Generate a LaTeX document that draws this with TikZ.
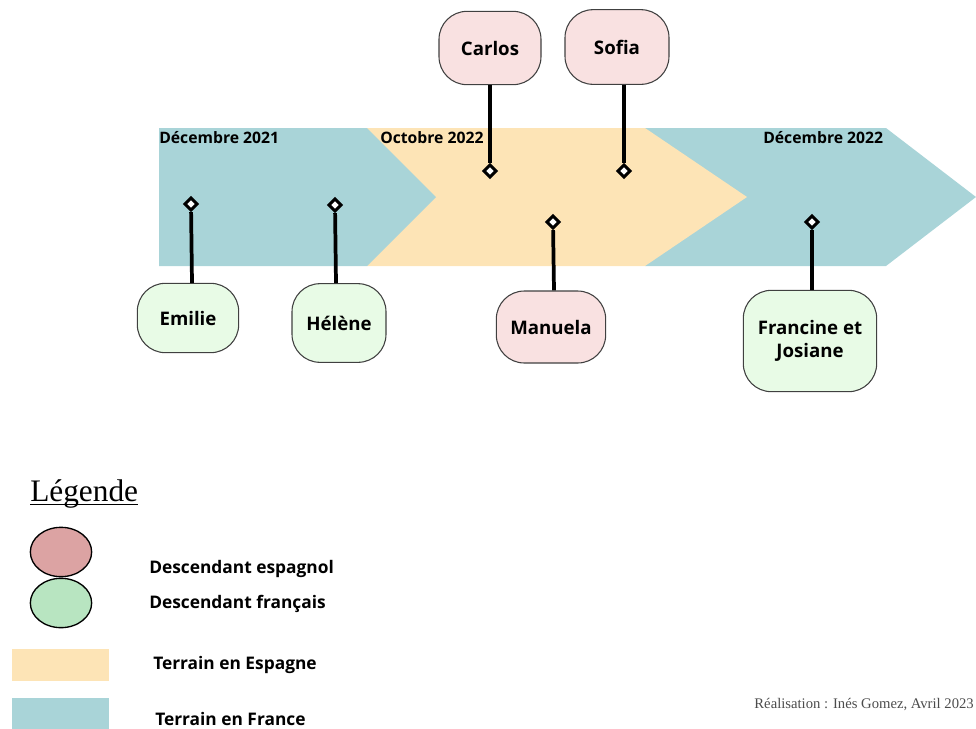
\documentclass[tikz,border=0pt]{standalone}
\usepackage{fontspec}
\setmainfont{Open Sans}
\newfontfamily\creditfont{Liberation Serif}
\usetikzlibrary{shapes.geometric}

\definecolor{franceblue}{HTML}{A9D4D8}
\definecolor{spainsand}{HTML}{FDE4B6}
\definecolor{pinkbox}{HTML}{F9E1E1}
\definecolor{greenbox}{HTML}{E8FBE6}
\definecolor{pinkdot}{HTML}{DCA3A3}
\definecolor{greendot}{HTML}{B8E5C1}

\tikzset{
  person/.style={draw=black!75, line width=0.8pt, rounded corners=21pt, align=center, inner sep=0pt,
    font=\bfseries\fontsize{14}{17}\selectfont},
  pinmark/.style={diamond, draw=black, fill=white, line width=2.2pt, inner sep=0pt, minimum size=10pt},
  stem/.style={line width=2.8pt},
  datelabel/.style={anchor=west, inner sep=0pt, font=\bfseries\fontsize{11.8}{14}\selectfont},
  legendtext/.style={anchor=west, inner sep=0pt, font=\bfseries\fontsize{13}{15}\selectfont},
}

\begin{document}
\begin{tikzpicture}[x=0.75pt,y=0.75pt,yscale=-1,xscale=1]
\useasboundingbox (0,0) rectangle (976,729);

%Shape: Chevron France (Dec 2022)
\fill [franceblue] (645,128) -- (886,128) -- (976,197) -- (886,266) -- (645,266) -- cycle ;
%Shape: Chevron Espagne
\fill [spainsand] (367,128) -- (645,128) -- (747,197) -- (645,266) -- (367,266) -- cycle ;
%Shape: Chevron France (Dec 2021)
\fill [franceblue] (159,128) -- (367,128) -- (436,197) -- (367,266) -- (159,266) -- cycle ;

% Dates
\node [datelabel] (dec21) at (159,138) {Décembre 2021};
\node [datelabel] (oct22) at (380,138) {Octobre 2022};
\node [datelabel] (dec22) at (763,138) {Décembre 2022};

% Persons
\node [person, fill=greenbox, minimum width=76pt, minimum height=52pt] (emilie) at (188,318) {Emilie};
\node [person, fill=greenbox, minimum width=70.5pt, minimum height=59pt] (helene) at (339,323) {Hélène};
\node [person, fill=pinkbox, minimum width=82pt, minimum height=54pt] (manuela) at (551,327) {Manuela};
\node [person, fill=greenbox, minimum width=100pt, minimum height=76pt] (francine) at (810,341) {Francine et\\Josiane};
\node [person, fill=pinkbox, minimum width=76.5pt, minimum height=55pt] (carlos) at (490,48) {Carlos};
\node [person, fill=pinkbox, minimum width=78pt, minimum height=56pt] (sofia) at (617,47) {Sofia};

% Pins
\node [pinmark] (p-emilie) at (191,204) {};
\node [pinmark] (p-helene) at (335,205) {};
\node [pinmark] (p-manuela) at (553,222) {};
\node [pinmark] (p-francine) at (812,222) {};
\node [pinmark] (p-carlos) at (490,171) {};
\node [pinmark] (p-sofia) at (624,171) {};

% Stems
\draw [stem] (emilie.north -| 192,0) -- (p-emilie) ;
\draw [stem] (helene.north -| 336,0) -- (p-helene) ;
\draw [stem] (manuela.north -| 554,0) -- (p-manuela) ;
\draw [stem] (francine.north -| 812,0) -- (p-francine) ;
\draw [stem] (carlos.south) -- (p-carlos) ;
\draw [stem] (sofia.south -| 624,0) -- (p-sofia) ;

% Legend
\node [anchor=base west, inner sep=0pt, font=\creditfont\fontsize{23.5}{28}\selectfont] (legende) at (30,501) {Légende};
\draw [line width=0.6pt] ([yshift=2.5pt]legende.base west) -- ([yshift=2.5pt]legende.base east) ;

\draw [fill=pinkdot, line width=1pt] (61,552) ellipse [x radius=23pt, y radius=18.5pt] ;
\draw [fill=greendot, line width=1pt] (61,603) ellipse [x radius=23pt, y radius=18.5pt] ;
\fill [spainsand] (12,649) rectangle (109,681) ;
\fill [franceblue] (12,698) rectangle (109,729) ;

\node [legendtext] (l-espagnol) at (149,569) {Descendant espagnol};
\node [legendtext] (l-francais) at (149,604) {Descendant français};
\node [legendtext] (l-espagne) at (153,665) {Terrain en Espagne};
\node [legendtext] (l-france) at (155,719) {Terrain en France};

% Credit
\node [anchor=base east, inner sep=0pt, text=black!70, font=\creditfont\fontsize{11}{13}\selectfont] (credit) at (974,708) {Réalisation : Inés Gomez, Avril 2023};

\end{tikzpicture}
\end{document}
